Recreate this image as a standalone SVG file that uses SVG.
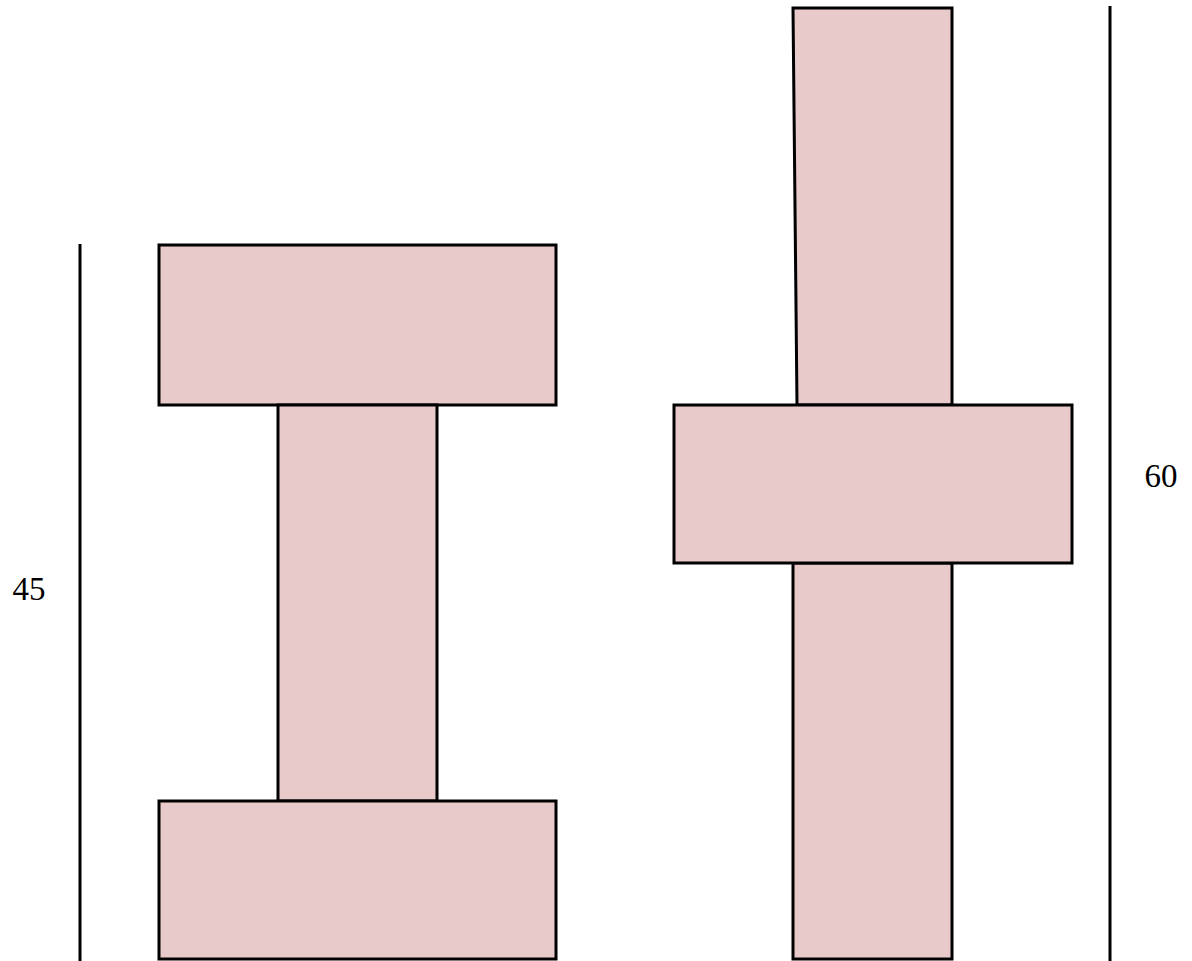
<svg xmlns="http://www.w3.org/2000/svg" width="1192" height="961" viewBox="0 0 1192 961">
<style>
.p{fill:#E8CACB;stroke:#000;stroke-width:3;stroke-linejoin:miter}
.l{stroke:#000;stroke-width:3;fill:none}
.t{font-family:"Liberation Serif","DejaVu Serif",serif;font-size:33px;fill:#000}
</style>
<rect width="1192" height="961" fill="#fff"/>
<g id="left">
<rect id="left-top" class="p" x="159" y="245" width="397" height="160"/>
<rect id="left-web" class="p" x="278" y="405" width="159" height="396"/>
<rect id="left-bottom" class="p" x="159" y="801" width="397" height="158"/>
<line id="left-dim" class="l" x1="80" y1="244" x2="80" y2="961"/>
<text id="left-label" class="t" x="29" y="600" text-anchor="middle">45</text>
</g>
<g id="right">
<polygon id="right-top" class="p" points="793,8 952,8 952,405 797,405"/>
<rect id="right-bottom" class="p" x="793" y="563" width="159" height="396"/>
<rect id="right-mid" class="p" x="674" y="405" width="398" height="158"/>
<line id="right-dim" class="l" x1="1110" y1="6" x2="1110" y2="961"/>
<text id="right-label" class="t" x="1161" y="487" text-anchor="middle">60</text>
</g>
</svg>
